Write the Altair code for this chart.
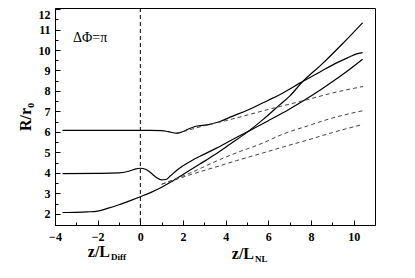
import altair as alt
import pandas as pd

# ---- data ----
a_x = [-3.65, -1.0, 0.5, 1.0, 1.3, 1.68, 1.9, 2.2, 2.6, 3.2, 3.7, 4.3, 5.04, 6.0, 6.53, 7.62, 8.5, 9.3, 9.8, 10.1, 10.42]
a_y = [6.08, 6.08, 6.08, 6.07, 6.02, 5.94, 5.98, 6.12, 6.28, 6.36, 6.5, 6.76, 7.07, 7.55, 7.82, 8.47, 8.98, 9.42, 9.66, 9.8, 9.87]

b_x = [-3.65, -2.0, -1.0, -0.6, -0.3, 0.0, 0.25, 0.5, 0.75, 1.0, 1.2, 1.4, 1.7, 2.0, 2.4, 2.77, 3.55, 4.3, 5.0, 6.0, 7.0, 8.0, 9.0, 9.8, 10.42]
b_y = [3.97, 3.98, 4.0, 4.07, 4.17, 4.23, 4.18, 4.0, 3.78, 3.66, 3.68, 3.85, 4.12, 4.35, 4.6, 4.8, 5.2, 5.62, 6.0, 6.55, 7.12, 7.75, 8.45, 9.05, 9.55]

c_x = [-3.65, -3.0, -2.5, -2.0, -1.5, -1.0, -0.5, 0.0, 0.5, 1.0, 1.5, 2.0, 2.77, 3.5, 4.2, 5.0, 5.8, 6.53, 7.0, 7.62, 8.5, 9.5, 10.42]
c_y = [2.07, 2.08, 2.1, 2.14, 2.28, 2.45, 2.64, 2.84, 3.05, 3.3, 3.6, 3.92, 4.42, 4.9, 5.4, 5.98, 6.65, 7.32, 7.75, 8.47, 9.3, 10.33, 11.33]

d1_x = [1.7, 2.3, 2.8, 4.0, 5.1, 6.0, 7.0, 7.8, 9.0, 10.44]
d1_y = [5.94, 6.1, 6.25, 6.55, 6.85, 7.1, 7.36, 7.57, 7.9, 8.22]

d2_x = [1.0, 1.5, 2.3, 3.5, 4.5, 5.6, 6.7, 7.85, 9.0, 10.44]
d2_y = [3.45, 3.65, 3.98, 4.55, 4.98, 5.4, 5.9, 6.3, 6.68, 7.04]

d3_x = [1.0, 1.5, 2.3, 3.5, 4.5, 5.6, 6.7, 7.85, 9.0, 10.44]
d3_y = [3.45, 3.62, 3.9, 4.28, 4.6, 4.93, 5.27, 5.61, 5.97, 6.37]

x_major = [-4, -2, 0, 2, 4, 6, 8, 10]
x_minor = [-3, -1, 1, 3, 5, 7, 9]
y_major = [2, 3, 4, 5, 6, 7, 8, 9, 10, 11, 12]
y_minor = [2.5, 3.5, 4.5, 5.5, 6.5, 7.5, 8.5, 9.5, 10.5, 11.5]


def frame(name, xs, ys):
    return pd.DataFrame({"s": name, "x": xs, "y": ys})


solid = pd.concat([frame("A", a_x, a_y), frame("B", b_x, b_y), frame("C", c_x, c_y)])
dashed = pd.concat([frame("D1", d1_x, d1_y), frame("D2", d2_x, d2_y), frame("D3", d3_x, d3_y)])

W, H = 320, 217
FONT = "Liberation Serif"
xsc = alt.Scale(domain=[-4, 11], nice=False, zero=False)
ysc = alt.Scale(domain=[1.46, 12.05], nice=False, zero=False)

lab = dict(labelFont=FONT, labelFontWeight="bold", labelFontSize=12, labelColor="black",
           labelOverlap=False, grid=False, title=None)

main_x = alt.Axis(values=x_major, ticks=False, tickSize=0, domain=True, domainColor="black",
                  labelPadding=6, orient="bottom", labelFlush=False, **lab)
main_y = alt.Axis(values=y_major, ticks=False, tickSize=0, domain=True, domainColor="black",
                  labelPadding=5, orient="left", labelFlush=3, **lab)


def tick_axis(vals, size, orient):
    return alt.Axis(values=vals, ticks=True, tickSize=size, offset=-size, tickColor="black",
                    tickWidth=1, labels=False, domain=False, grid=False, title=None, orient=orient)


solid_layer = alt.Chart(solid).mark_line(color="black", strokeWidth=1.2, interpolate="monotone").encode(
    x=alt.X("x:Q", scale=xsc, axis=main_x),
    y=alt.Y("y:Q", scale=ysc, axis=main_y),
    detail="s:N",
)

dashed_layer = alt.Chart(dashed).mark_line(color="#444444", strokeWidth=1, strokeDash=[4, 3],
                                           interpolate="monotone").encode(
    x=alt.X("x:Q", scale=xsc, axis=None),
    y=alt.Y("y:Q", scale=ysc, axis=None),
    detail="s:N",
)

major_ticks = alt.Chart(solid).mark_line(strokeOpacity=0).encode(
    x=alt.X("x:Q", scale=xsc, axis=tick_axis(x_major, 5, "bottom")),
    y=alt.Y("y:Q", scale=ysc, axis=tick_axis(y_major, 5, "left")),
    detail="s:N",
)

minor_ticks = alt.Chart(solid).mark_line(strokeOpacity=0).encode(
    x=alt.X("x:Q", scale=xsc, axis=tick_axis(x_minor, 3, "bottom")),
    y=alt.Y("y:Q", scale=ysc, axis=tick_axis(y_minor, 3, "left")),
    detail="s:N",
)

vline = alt.Chart(pd.DataFrame({"x0": [0]})).mark_rule(color="black", strokeWidth=1, strokeDash=[4, 3]).encode(
    x=alt.X("x0:Q", scale=xsc, axis=None),
)


def label(text, x, y, size, weight="bold", align="left", angle=0):
    return alt.Chart(pd.DataFrame({"t": [text]})).mark_text(
        font=FONT, fontSize=size, fontWeight=weight, align=align, baseline="alphabetic",
        color="black", angle=angle,
    ).encode(text="t:N", x=alt.value(x), y=alt.value(y))


texts = [
    label("ΔΦ=π", 18, 34, 14, weight="normal"),
    label("z/L", 55, 248.5, 16, align="right"),
    label("Diff", 56, 252, 9),
    label("z/L", 199, 251, 16, align="right"),
    label("NL", 200, 253.5, 9),
]

ytitle = alt.Chart(pd.DataFrame({"t": ["R/r₀"]})).mark_text(
    font=FONT, fontSize=16, fontWeight="bold", align="center", baseline="middle",
    color="black", angle=270,
).encode(text="t:N", x=alt.value(-29), y=alt.value(109))

chart = alt.layer(
    solid_layer, dashed_layer, vline, major_ticks, minor_ticks, ytitle, *texts
).resolve_axis(x="independent", y="independent").properties(
    width=W, height=H,
    autosize=alt.AutoSizeParams(type="none"),
    padding={"left": 47, "top": 0, "right": 30, "bottom": 40},
    background="white",
).configure_view(stroke="black", strokeWidth=1)

chart.save("out.html", embed_options={"renderer": "svg", "actions": False})
